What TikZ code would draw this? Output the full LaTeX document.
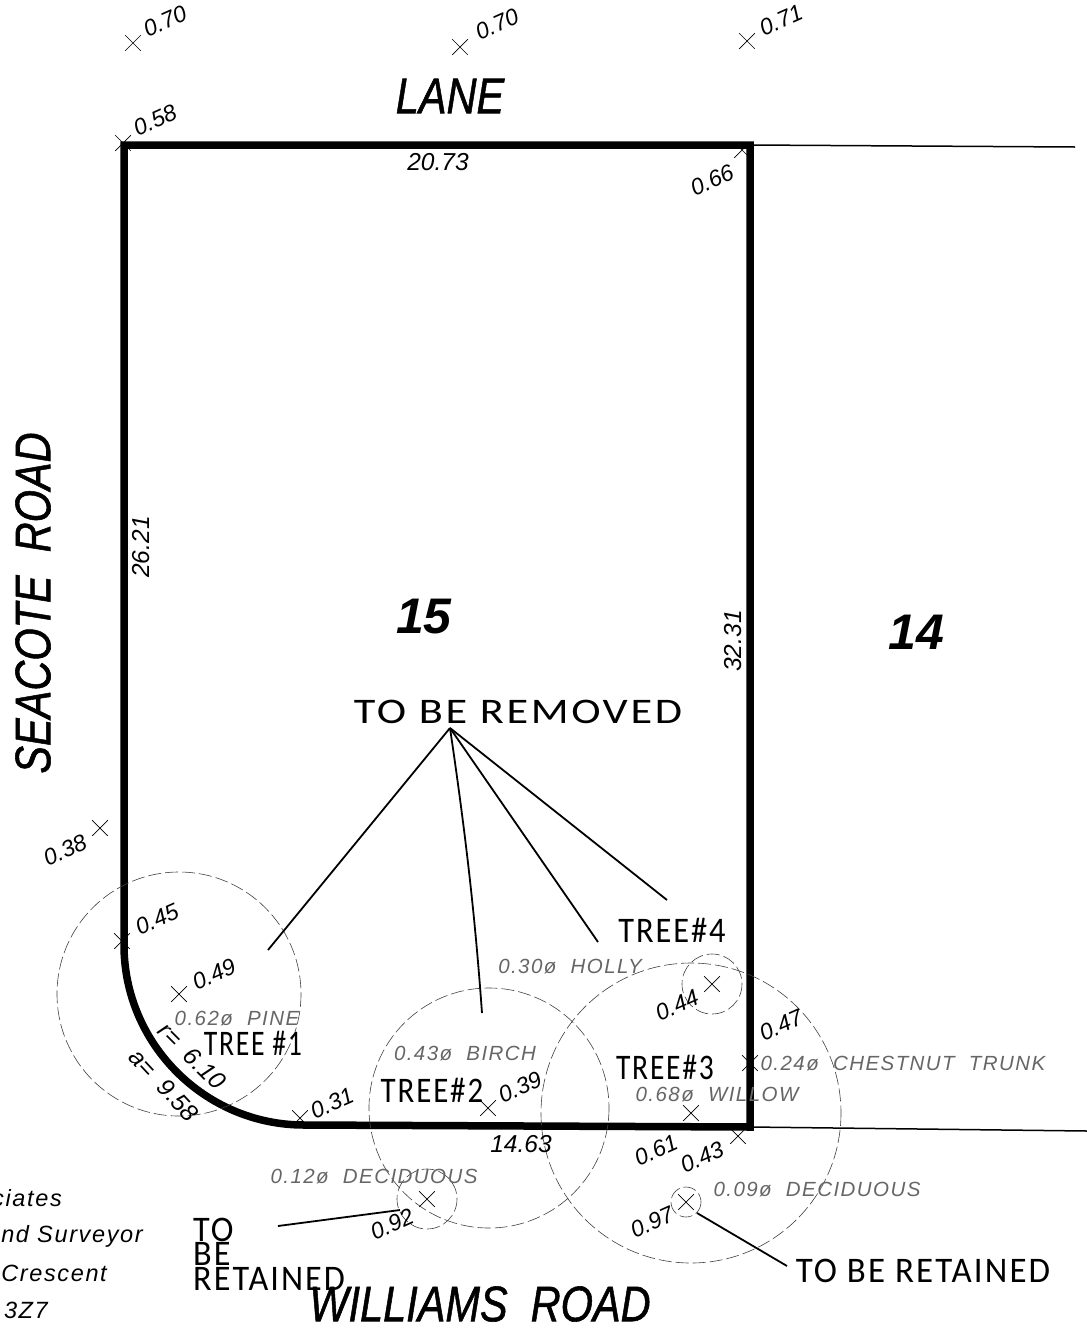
\documentclass[tikz,border=0pt]{standalone}
\usepackage{fontspec}
\setmainfont{Liberation Sans}
\newfontfamily\cadface[LetterSpace=7]{Liberation Sans}
\newfontfamily\handface[LetterSpace=6]{Carlito}
\newfontfamily\roadface[FakeBold=1.2]{Liberation Sans}
\usetikzlibrary{shapes.misc}
\tikzset{
  spot/.style={cross out,draw,minimum size=15pt,inner sep=0pt,line width=.7pt},
  grade/.style={font=\fontsize{23}{27}\selectfont\itshape,rotate=24,inner sep=0pt},
  dim/.style={font=\fontsize{24.5}{28}\selectfont\itshape,inner sep=0pt},
  tag/.style={font=\fontsize{20.5}{24}\cadface\itshape,text=black!60,inner sep=0pt},
  road/.style={font=\fontsize{50}{58}\roadface\itshape,xscale=.83,inner sep=0pt},
  lotno/.style={font=\fontsize{50}{58}\selectfont\bfseries\itshape,inner sep=0pt},
  hand/.style={font=\fontsize{36}{22}\handface,inner sep=0pt},
  office/.style={font=\fontsize{23.5}{28}\cadface\itshape,anchor=east,inner sep=0pt},
  canopy/.style={draw=black!75,line width=.6pt,dash pattern=on 13pt off 4pt},
  leader/.style={line width=1.8pt},
}
\begin{document}
\begin{tikzpicture}[x=1pt,y=-1pt]
\useasboundingbox(0,0)rectangle(1087,1331);
\coordinate(kHub)at(450,728);
\coordinate(kCorner)at(750,145);
\coordinate(kFoot)at(750,1127);
\draw[line width=7.5pt,line join=miter](124,945)--(124,145)--(kCorner)--(kFoot)--(304,1125)..controls(205,1125)and(124,1044)..(124,945)--cycle;
\draw[line width=1.5pt](kCorner)--(1075,147);
\draw[line width=1.5pt](kFoot)--(1087,1131);
\draw[canopy](179,994)circle[radius=122];
\draw[canopy](489,1108)circle[radius=120];
\draw[canopy](691,1113)circle[radius=150];
\draw[canopy](712,984)circle[radius=30];
\draw[canopy](427,1199)circle[radius=30];
\draw[canopy](686,1202)circle[radius=15];
\node[spot](mA)at(133,43){};
\node[grade](gA)at(165,21){0.70};
\node[spot](mB)at(460,47){};
\node[grade](gB)at(497,24){0.70};
\node[spot](mC)at(747,41){};
\node[grade](gC)at(781,20){0.71};
\node[spot](mD)at(123,143){};
\node[grade](gD)at(155,120){0.58};
\node[spot](mE)at(742,150){};
\node[grade](gE)at(712,180){0.66};
\node[spot](mF)at(100,828){};
\node[grade](gF)at(65,850){0.38};
\node[spot](mG)at(122,941){};
\node[grade](gG)at(157,919){0.45};
\node[spot](mH)at(179,994){};
\node[grade](gH)at(214,974){0.49};
\node[spot](mI)at(300,1118){};
\node[grade](gI)at(332,1103){0.31};
\node[spot](mJ)at(488,1108){};
\node[grade](gJ)at(520,1087){0.39};
\node[spot](mK)at(712,984){};
\node[grade](gK)at(677,1005){0.44};
\node[spot](mL)at(750,1063){};
\node[grade](gL)at(781,1025){0.47};
\node[spot](mM)at(691,1113){};
\node[grade](gM)at(656,1150){0.61};
\node[spot](mN)at(738,1136){};
\node[grade](gN)at(702,1157){0.43};
\node[spot](mO)at(686,1202){};
\node[grade](gO)at(652,1222){0.97};
\node[spot](mP)at(427,1199){};
\node[grade](gP)at(392,1224){0.92};
\node[dim](dTop)at(438,162){20.73};
\node[dim](dBottom)at(521,1144){14.63};
\node[dim,rotate=90](dLeft)at(141,547){26.21};
\node[dim,rotate=90](dRight)at(733,641){32.31};
\node[dim,rotate=-45](dRad)at(192,1056){r=\ \ 6.10};
\node[dim,rotate=-47](dArc)at(164,1085){a=\ \ 9.58};
\node[road](rLane)at(450,96){LANE};
\node[rotate=90,road](rSeacote)at(33,603){SEACOTE\ \ ROAD};
\node[road](rWilliams)at(480,1304){WILLIAMS\ \ ROAD};
\node[lotno](lA)at(424,617){15};
\node[lotno](lB)at(916,632){14};
\node[tag](tPine)at(237,1019){0.62ø\ \ PINE};
\node[tag](tHolly)at(570,967){0.30ø\ \ HOLLY};
\node[tag](tBirch)at(465,1054){0.43ø\ \ BIRCH};
\node[tag](tChestnut)at(903,1064){0.24ø\ \ CHESTNUT\ \ TRUNK};
\node[tag](tWillow)at(717,1095){0.68ø\ \ WILLOW};
\node[tag](tDecidA)at(374,1177){0.12ø\ \ DECIDUOUS};
\node[tag](tDecidB)at(817,1190){0.09ø\ \ DECIDUOUS};
\node[office](oA)at(62,1198){ciates};
\node[office](oB)at(143,1236){nd Surveyor};
\node[office](oC)at(107,1273){Crescent};
\node[office](oD)at(48,1310){3Z7};
\node[hand,xscale=1.23](hRemoved)at(518,712){TO BE REMOVED};
\node[hand,xscale=.77](hOne)at(253,1043){TREE \#1};
\node[hand,xscale=.86](hTwo)at(432,1090){TREE\#2};
\node[hand,xscale=.82](hThree)at(665,1067){TREE\#3};
\node[hand,xscale=.9](hFour)at(672,930){TREE\#4};
\node[hand,xscale=.97](hRight)at(923,1271){TO BE RETAINED};
\node[hand,xscale=.95,align=left,anchor=north west](hLeft)at(193,1218){TO\\BE\\RETAINED};
\draw[leader](kHub)--(268,950);
\draw[leader](kHub)..controls(468,850)and(476,930)..(482,1013);
\draw[leader](kHub)--(598,942);
\draw[leader](kHub)--(667,900);
\draw[leader](278,1226)--(400,1210);
\draw[leader](697,1213)--(787,1266);
\end{tikzpicture}
\end{document}
